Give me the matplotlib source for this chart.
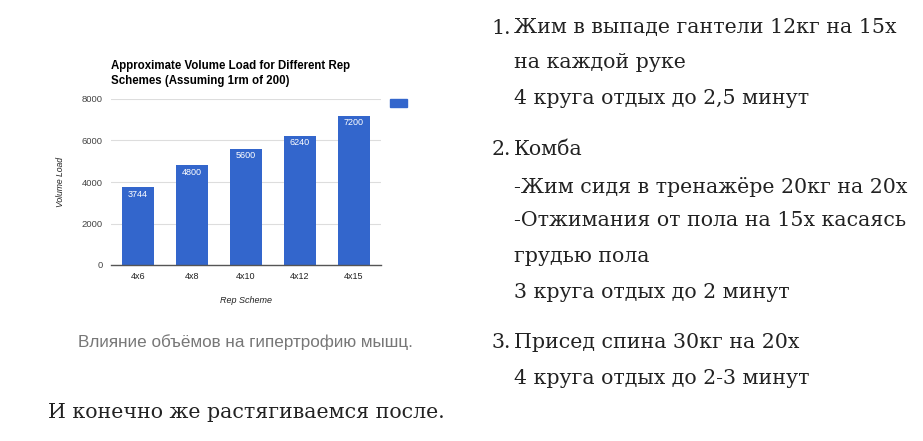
import matplotlib
matplotlib.use("Agg")
import matplotlib.pyplot as plt
from matplotlib.patches import Rectangle

W, H = 923, 441

schemes = ["4x6", "4x8", "4x10", "4x12", "4x15"]
volume = [3744, 4800, 5600, 6240, 7200]
yticks = [0, 2000, 4000, 6000, 8000]

title = "Approximate Volume Load for Different Rep\nSchemes (Assuming 1rm of 200)"
caption = "Влияние объёмов на гипертрофию мышц."
numbers = [("1.", 28), ("2.", 150), ("3.", 343)]
lines = [
    ("Жим в выпаде гантели 12кг на 15х", 28),
    ("на каждой руке", 63),
    ("4 круга отдых до 2,5 минут", 99),
    ("Комба", 150),
    ("-Жим сидя в тренажёре 20кг на 20х", 187),
    ("-Отжимания от пола на 15х касаясь", 221),
    ("грудью пола", 257),
    ("3 круга отдых до 2 минут", 292),
    ("Присед спина 30кг на 20х", 343),
    ("4 круга отдых до 2-3 минут", 379),
]
footer = "И конечно же растягиваемся после."

blue = "#3366cc"
serif = "DejaVu Serif"
sans = "Liberation Sans"


def fx(x):
    return x / W


def fy(y):
    return 1 - y / H


fig = plt.figure(figsize=(W / 100, H / 100), dpi=100)

# chart area
ax = fig.add_axes([fx(111), fy(265), fx(381) - fx(111), fy(99) - fy(265)])
pos = range(len(schemes))
bars = ax.bar(pos, volume, width=0.6, color=blue, zorder=3)
for b, v in zip(bars, volume):
    ax.text(b.get_x() + b.get_width() / 2, v - 110, str(v), ha="center", va="top",
            color="white", fontsize=6.5, family=sans, zorder=4)
ax.set_xlim(-0.5, len(schemes) - 0.5)
ax.set_ylim(0, 8000)
ax.set_yticks(yticks)
ax.set_yticklabels([str(t) for t in yticks], family=sans, fontsize=6.8, color="#444")
ax.set_xticks(list(pos))
ax.set_xticklabels(schemes, family=sans, fontsize=6.5, color="#222")
ax.tick_params(axis="y", length=0, pad=6)
ax.tick_params(axis="x", length=0, pad=5)
ax.grid(axis="y", color="#dddddd", lw=0.8, zorder=0)
for s in ["top", "right", "left"]:
    ax.spines[s].set_visible(False)
ax.spines["bottom"].set_color("#555555")
ax.spines["bottom"].set_linewidth(1.0)
ax.spines["bottom"].set_zorder(5)
ax.set_xlabel("Rep Scheme", family=sans, fontsize=6.5, style="italic", color="#222", labelpad=11)
ax.set_ylabel("Volume Load", family=sans, fontsize=6.2, style="italic", color="#222", labelpad=12)

fig.text(fx(111), fy(73.5), title, ha="left", va="center", family=sans,
         fontsize=8.3, fontweight="bold", color="#000", linespacing=1.3)
fig.patches.append(Rectangle((fx(390), fy(107)), fx(407) - fx(390), fy(99) - fy(107),
                             transform=fig.transFigure, color=blue))

fig.text(fx(245), fy(342), caption, ha="center", va="center", family=sans,
         fontsize=12.3, color="#777777")

for n, y in numbers:
    fig.text(fx(511), fy(y), n, ha="right", va="center", family=serif, fontsize=14.8, color="#222")
for t, y in lines:
    fig.text(fx(514), fy(y), t, ha="left", va="center", family=serif, fontsize=14.8, color="#222")
fig.text(fx(48), fy(412), footer, ha="left", va="center", family=serif, fontsize=14.8, color="#222")

fig.savefig("out.png", dpi=100)
